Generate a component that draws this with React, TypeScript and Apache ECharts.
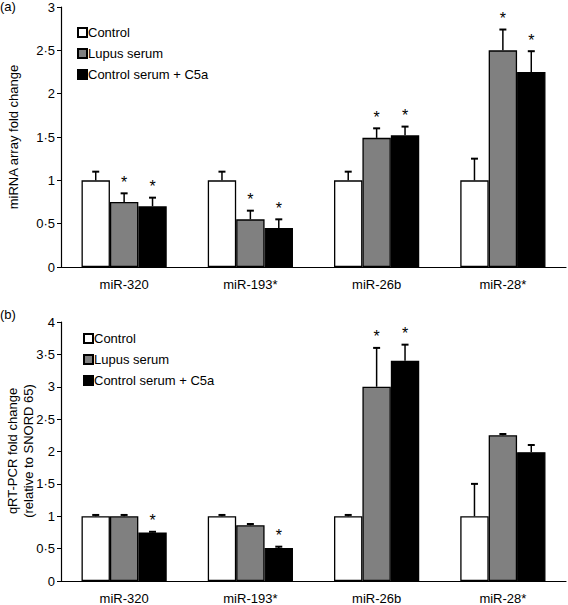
import React, { useEffect, useRef } from "react";
import * as echarts from "echarts";

const categories = ["miR-320", "miR-193*", "miR-26b", "miR-28*"];
const seriesNames = ["Control", "Lupus serum", "Control serum + C5a"];
const seriesColors = ["#ffffff", "#808080", "#000000"];

// Panel (a): miRNA array
const arrayControl = [1.0, 1.0, 1.0, 1.0];
const arrayControlErr = [0.1, 0.1, 0.1, 0.25];
const arrayLupus = [0.75, 0.55, 1.49, 2.5];
const arrayLupusErr = [0.1, 0.1, 0.11, 0.24];
const arrayC5a = [0.7, 0.45, 1.52, 2.25];
const arrayC5aErr = [0.1, 0.1, 0.1, 0.24];
const arrayControlSig = [0, 0, 0, 0];
const arrayLupusSig = [1, 1, 1, 1];
const arrayC5aSig = [1, 1, 1, 1];

// Panel (b): qRT-PCR
const qpcrControl = [1.0, 1.0, 1.0, 1.0];
const qpcrControlErr = [0.02, 0.02, 0.02, 0.5];
const qpcrLupus = [1.0, 0.86, 3.0, 2.25];
const qpcrLupusErr = [0.02, 0.02, 0.6, 0.02];
const qpcrC5a = [0.75, 0.51, 3.4, 1.99];
const qpcrC5aErr = [0.01, 0.02, 0.25, 0.11];
const qpcrControlSig = [0, 0, 0, 0];
const qpcrLupusSig = [0, 0, 1, 0];
const qpcrC5aSig = [1, 1, 1, 0];

const FONT = "Liberation Sans, Arial, sans-serif";
const BAR_FRAC = 0.225;

function fmt(v: number) {
  return String(v).replace(".", "·");
}

function barSeries(name: string, data: number[], idx: number, axis: number) {
  return {
    type: "bar",
    name,
    xAxisIndex: axis,
    yAxisIndex: axis,
    data,
    barWidth: "22.5%",
    barGap: 0,
    itemStyle: { color: seriesColors[idx], borderColor: "#000", borderWidth: 1.3 },
    z: 2,
  };
}

function errSeries(vals: number[], errs: number[], sig: number[], idx: number, axis: number) {
  return {
    type: "custom",
    xAxisIndex: axis,
    yAxisIndex: axis,
    z: 5,
    silent: true,
    data: vals.map((v, i) => [i, v, v + errs[i], sig[i]]),
    encode: { x: 0, y: 2 },
    renderItem: (params: any, api: any) => {
      const c = api.value(0);
      const base = api.coord([c, api.value(1)]);
      const top = api.coord([c, api.value(2)]);
      const bw = api.size([1, 0])[0];
      const barW = bw * BAR_FRAC;
      const x = base[0] + (idx - 1) * barW;
      const children: any[] = [
        { type: "line", shape: { x1: x, y1: base[1], x2: x, y2: top[1] }, style: { stroke: "#000", lineWidth: 1.5 } },
        { type: "line", shape: { x1: x - 3.5, y1: top[1], x2: x + 3.5, y2: top[1] }, style: { stroke: "#000", lineWidth: 2 } },
      ];
      if (api.value(3)) {
        children.push({
          type: "text",
          style: {
            text: "*",
            x: x,
            y: top[1] - 3,
            align: "center",
            verticalAlign: "bottom",
            fontSize: 16,
            fontFamily: FONT,
            fill: "#000",
          },
        });
      }
      return { type: "group", children };
    },
  };
}

export default function App() {
  const ref = useRef<HTMLDivElement>(null);
  useEffect(() => {
    if (!ref.current) return;
    const chart = echarts.init(ref.current, null, { renderer: "svg" });
    const yAxisBase = (max: number, name: string, gap: number) => ({
      type: "value",
      min: 0,
      max,
      interval: 0.5,
      name,
      nameLocation: "middle",
      nameGap: gap,
      nameTextStyle: { color: "#000", fontSize: 13, fontFamily: FONT, lineHeight: 16 },
      axisLine: { show: true, lineStyle: { color: "#000", width: 1.2 } },
      axisTick: { show: true, length: 4, lineStyle: { color: "#000" } },
      splitLine: { show: false },
      axisLabel: { color: "#000", fontSize: 13, fontFamily: FONT, margin: 6, formatter: fmt },
    });
    const xAxisBase = (gi: number) => ({
      type: "category",
      gridIndex: gi,
      data: categories,
      axisLine: { show: true, lineStyle: { color: "#000", width: 1.2 } },
      axisTick: { show: false },
      axisLabel: { color: "#000", fontSize: 13, fontFamily: FONT, margin: 11 },
    });
    const legendBase = (top: number, left: number) => ({
      orient: "vertical",
      top,
      left,
      itemWidth: 9,
      itemHeight: 9,
      itemGap: 8,
      icon: "rect",
      selectedMode: false,
      textStyle: { color: "#000", fontSize: 13, fontFamily: FONT, padding: [0, 0, 0, -4] },
      data: seriesNames,
    });
    chart.setOption({
      animation: false,
      backgroundColor: "#fff",
      textStyle: { fontFamily: FONT },
      grid: [
        { left: 61, right: 2, top: 7, height: 260, containLabel: false, outerBoundsMode: "none" },
        { left: 61, right: 2, top: 322, height: 259, containLabel: false, outerBoundsMode: "none" },
      ],
      xAxis: [xAxisBase(0), xAxisBase(1)],
      yAxis: [
        { ...yAxisBase(3, "miRNA array fold change", 40), gridIndex: 0 },
        { ...yAxisBase(4, "", 22), gridIndex: 1 },
      ],
      legend: [legendBase(21, 72), legendBase(327, 78)],
      graphic: [
        { type: "text", left: 0, top: 0, style: { text: "(a)", fontSize: 13, fontFamily: FONT, fill: "#000" } },
        { type: "text", left: 0, top: 308, style: { text: "(b)", fontSize: 13, fontFamily: FONT, fill: "#000" } },
        {
          type: "text",
          x: 20,
          y: 451,
          rotation: Math.PI / 2,
          style: {
            text: "qRT-PCR fold change\n(relative to SNORD 65)",
            align: "center",
            verticalAlign: "middle",
            fontSize: 13,
            lineHeight: 16,
            fontFamily: FONT,
            fill: "#000",
          },
        },
      ],
      series: [
        barSeries(seriesNames[0], arrayControl, 0, 0),
        barSeries(seriesNames[1], arrayLupus, 1, 0),
        barSeries(seriesNames[2], arrayC5a, 2, 0),
        errSeries(arrayControl, arrayControlErr, arrayControlSig, 0, 0),
        errSeries(arrayLupus, arrayLupusErr, arrayLupusSig, 1, 0),
        errSeries(arrayC5a, arrayC5aErr, arrayC5aSig, 2, 0),
        barSeries(seriesNames[0], qpcrControl, 0, 1),
        barSeries(seriesNames[1], qpcrLupus, 1, 1),
        barSeries(seriesNames[2], qpcrC5a, 2, 1),
        errSeries(qpcrControl, qpcrControlErr, qpcrControlSig, 0, 1),
        errSeries(qpcrLupus, qpcrLupusErr, qpcrLupusSig, 1, 1),
        errSeries(qpcrC5a, qpcrC5aErr, qpcrC5aSig, 2, 1),
      ],
    });
    return () => chart.dispose();
  }, []);
  return (
    <div
      ref={ref}
      style={{ position: "fixed", left: 0, top: 0, width: 568, height: 605, background: "#fff" }}
    />
  );
}
